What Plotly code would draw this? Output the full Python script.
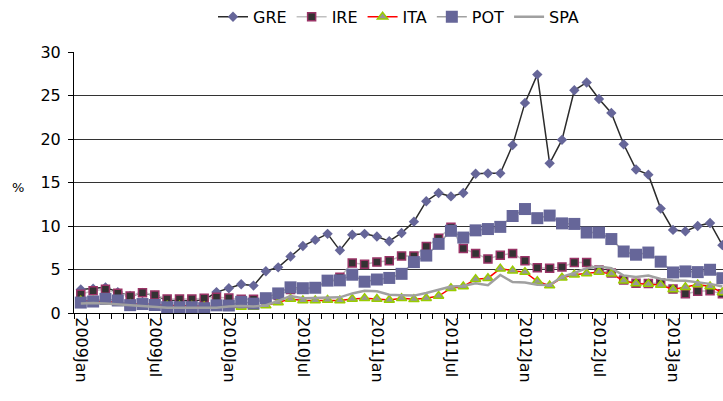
import plotly.graph_objects as go

# 月度数据, 2009Jan - 2013May (%)
tick_labels = ["2009Jan", "2009Jul", "2010Jan", "2010Jul", "2011Jan",
               "2011Jul", "2012Jan", "2012Jul", "2013Jan"]

gre = [2.7, 2.8, 2.95, 2.4, 1.95, 2.3, 2.0, 1.5, 1.45, 1.4, 1.5, 2.4,
       2.85, 3.3, 3.15, 4.8, 5.25, 6.5, 7.7, 8.4, 9.1, 7.2, 9.0, 9.1,
       8.8, 8.25, 9.2, 10.5, 12.85, 13.8, 13.4, 13.8, 16.0, 16.05, 16.05, 19.3,
       24.15, 27.4, 17.2, 19.9, 25.6, 26.5, 24.6, 23.0, 19.4, 16.5, 15.9, 12.0,
       9.55, 9.4, 10.0, 10.35, 7.8]
ire = [2.15, 2.57, 2.72, 2.26, 1.95, 2.34, 2.07, 1.6, 1.6, 1.6, 1.69, 1.8,
       1.72, 1.57, 1.57, 1.5, 2.0, 2.7, 2.75, 2.85, 3.65, 4.1, 5.75, 5.6,
       5.85, 6.0, 6.55, 6.55, 7.65, 8.6, 9.85, 7.4, 6.85, 6.2, 6.65, 6.85,
       6.0, 5.2, 5.13, 5.3, 5.8, 5.8, 4.95, 4.6, 3.8, 3.42, 3.4, 3.45,
       2.75, 2.2, 2.5, 2.55, 2.2]
ita = [1.4, 1.4, 1.35, 1.2, 1.0, 1.05, 0.95, 0.85, 0.85, 0.8, 0.75, 0.7,
       0.7, 0.7, 0.7, 0.85, 1.2, 1.6, 1.45, 1.45, 1.5, 1.45, 1.6, 1.7,
       1.6, 1.5, 1.7, 1.57, 1.7, 1.95, 2.85, 3.05, 3.88, 4.0, 5.1, 4.85,
       4.7, 3.65, 3.15, 4.05, 4.4, 4.55, 4.72, 4.5, 3.7, 3.38, 3.33, 3.22,
       2.7, 2.95, 3.27, 3.05, 2.35]
pot = [1.2, 1.32, 1.62, 1.44, 0.9, 1.03, 0.92, 0.67, 0.67, 0.67, 0.55, 0.88,
       0.86, 1.28, 1.08, 1.7, 2.25, 2.95, 2.85, 2.9, 3.72, 3.75, 4.4, 3.6,
       3.85, 4.03, 4.5, 5.85, 6.6, 7.95, 9.45, 8.67, 9.5, 9.65, 9.9, 11.15,
       11.95, 10.9, 11.2, 10.3, 10.24, 9.25, 9.25, 8.5, 7.07, 6.7, 6.95, 5.9,
       4.66, 4.78, 4.7, 4.97, 4.0]
spa = [1.1, 1.15, 1.1, 1.0, 0.9, 0.8, 0.65, 0.6, 0.6, 0.6, 0.6, 0.6,
       0.75, 0.8, 0.75, 0.9, 1.4, 1.95, 1.7, 1.75, 1.8, 1.8, 2.25, 2.55,
       2.5, 2.1, 2.05, 2.0, 2.3, 2.65, 3.05, 3.1, 3.42, 3.2, 4.37, 3.55,
       3.5, 3.25, 3.22, 4.15, 4.6, 5.15, 5.35, 5.15, 4.3, 4.15, 4.3, 3.9,
       3.75, 3.7, 3.5, 3.35, 3.05]

x = list(range(len(gre)))
tick_pos = x[::6]

FONT = "Verdana, DejaVu Sans, sans-serif"

fig = go.Figure()

fig.add_trace(go.Scatter(
    x=x, y=gre, name="GRE", mode="lines+markers",
    line=dict(color="#2b2b2b", width=1.5),
    marker=dict(symbol="diamond", size=8, color="#666699",
                line=dict(color="#666699", width=0))
))
fig.add_trace(go.Scatter(
    x=x, y=ire, name="IRE", mode="lines+markers",
    line=dict(color="#c0c0c0", width=1.5),
    marker=dict(symbol="square", size=8, color="#333333",
                line=dict(color="#993366", width=1.5))
))
fig.add_trace(go.Scatter(
    x=x, y=ita, name="ITA", mode="lines+markers",
    line=dict(color="#ff0000", width=1.5),
    marker=dict(symbol="triangle-up", size=9, color="#969696",
                line=dict(color="#99cc00", width=1.5))
))
fig.add_trace(go.Scatter(
    x=x, y=pot, name="POT", mode="lines+markers",
    line=dict(color="#a0a0a0", width=1.5),
    marker=dict(symbol="square", size=12, color="#666699",
                line=dict(color="#666699", width=0))
))
fig.add_trace(go.Scatter(
    x=x, y=spa, name="SPA", mode="lines",
    line=dict(color="#a0a0a0", width=2.5)
))

fig.update_layout(
    width=723, height=401,
    margin=dict(l=74, r=0, t=52, b=88),
    paper_bgcolor="white", plot_bgcolor="white",
    font=dict(family=FONT, size=16, color="black"),
    showlegend=True,
    legend=dict(orientation="h", x=0.5, xanchor="center",
                y=0.958, yref="container", yanchor="middle",
                font=dict(size=16), itemwidth=30, tracegroupgap=0),
)

fig.update_xaxes(
    range=[-0.55, 52.05],
    tickmode="array", tickvals=tick_pos, ticktext=tick_labels,
    tickangle=90, ticks="", showgrid=False, zeroline=False,
    showline=True, linecolor="black", linewidth=1,
    tickfont=dict(size=16),
    minor=dict(ticks="outside", ticklen=5, tickcolor="black",
               tick0=-0.5, dtick=1, showgrid=False),
)
fig.update_yaxes(
    range=[0, 30], dtick=5, ticks="outside", ticklen=5, tickcolor="black",
    showline=True, linecolor="black", linewidth=1,
    showgrid=True, gridcolor="#333333", gridwidth=1, zeroline=False,
    tickfont=dict(size=16), ticklabelstandoff=4,
)

fig.add_annotation(
    text="%", xref="paper", yref="y", x=-0.087, y=14.4,
    xanchor="center", showarrow=False, font=dict(size=13, family=FONT)
)

# 去掉页面 body 的默认边距, 隐藏工具栏
fig.write_html("out.html",
               config={"displayModeBar": False},
               post_script="document.body.style.margin='0';"
                           "document.body.style.overflow='hidden';")
